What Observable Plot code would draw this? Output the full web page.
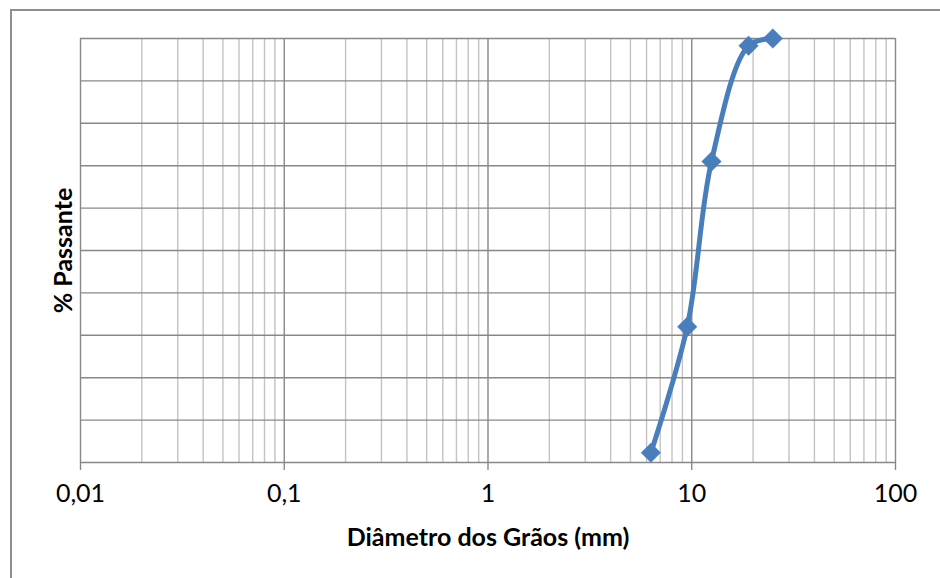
<!DOCTYPE html>
<html>
<head>
<meta charset="utf-8">
<script src="https://cdn.jsdelivr.net/npm/d3@7"></script>
<script src="https://cdn.jsdelivr.net/npm/@observablehq/plot@0.6"></script>
<style>
  html, body { margin: 0; padding: 0; background: #fff; }
  #wrap { position: relative; width: 940px; height: 578px; overflow: hidden; }
  #border { position: absolute; left: 10px; top: 9px; width: 1000px; height: 700px;
            border-top: 2px solid #8e8e8e; border-left: 2px solid #8e8e8e; box-sizing: border-box; }
  #chart { position: absolute; left: 0; top: 0; }
</style>
</head>
<body>
<div id="wrap"><div id="border"></div><div id="chart"></div></div>
<script>
// Data
const diameters = [6.3, 9.5, 12.5, 19, 25];        // mm
const passing   = [2.3, 32, 71, 98.3, 100];        // %
const decadeTicks = [0.01, 0.1, 1, 10, 100];
const tickLabels  = ["0,01", "0,1", "1", "10", "100"];
const yGrid = [0, 10, 20, 30, 40, 50, 60, 70, 80, 90, 100];
const xTitle = "Diâmetro dos Grãos (mm)";
const yTitle = "% Passante";

const data = diameters.map((d, i) => ({d, p: passing[i]}));
const minor = [];
for (const dec of [0.01, 0.1, 1, 10]) for (let k = 2; k <= 9; k++) minor.push(+(dec * k).toPrecision(3));

const diamond = {
  draw(ctx, size) {
    const r = Math.sqrt(size) * 0.62625;
    ctx.moveTo(0, -r); ctx.lineTo(r, 0); ctx.lineTo(0, r); ctx.lineTo(-r, 0); ctx.closePath();
  }
};

const font = "Lato, 'Open Sans', sans-serif";
const chart = Plot.plot({
  width: 940,
  height: 578,
  marginLeft: 80,
  marginRight: 45,
  marginTop: 38,
  marginBottom: 116,
  style: {fontFamily: font, fontSize: "25px", color: "#000", background: "transparent"},
  x: {type: "log", domain: [0.01, 100]},
  y: {domain: [0, 100]},
  marks: [
    Plot.ruleX(minor, {stroke: "#c3c3c3", strokeWidth: 1.4}),
    Plot.ruleY(yGrid, {stroke: "#888888", strokeWidth: 1.4}),
    Plot.ruleX(decadeTicks, {stroke: "#888888", strokeWidth: 1.4}),
    Plot.axisX(decadeTicks, {tickSize: 8, tickPadding: 14, stroke: "#888888", strokeWidth: 1.4,
      tickFormat: (d, i) => tickLabels[decadeTicks.indexOf(d)], fill: "#000", fontSize: 25, label: null}),
    Plot.axisY({ticks: [], label: null}),
    Plot.line(data, {x: "d", y: "p", curve: "catmull-rom", stroke: "#4a7ebb", strokeWidth: 5}),
    Plot.dot(data, {x: "d", y: "p", symbol: diamond, r: 8.8, fill: "#4a7ebb", stroke: "#4a7ebb", strokeWidth: 0.5}),
    Plot.text([xTitle], {frameAnchor: "bottom", dy: 75, fontWeight: "bold", fontSize: 25, fill: "#000", lineAnchor: "middle"}),
    Plot.text([yTitle], {frameAnchor: "left", dx: -17, rotate: -90, fontWeight: "bold", fontSize: 25, fill: "#000", lineAnchor: "middle", textAnchor: "middle"})
  ]
});
document.getElementById("chart").appendChild(chart);
</script>
</body>
</html>
